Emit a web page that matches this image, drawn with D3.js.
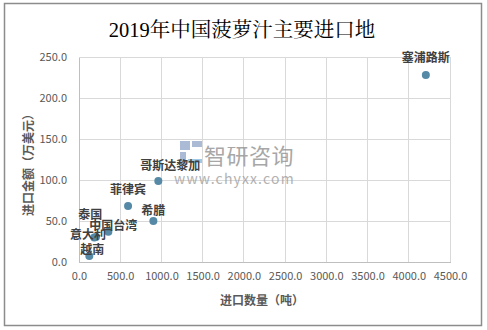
<!DOCTYPE html>
<html><head><meta charset="utf-8">
<script src="https://cdn.jsdelivr.net/npm/d3@7"></script>
<style>body{margin:0;background:#fff}svg{display:block}</style>
</head><body>
<script>
const names = ["塞浦路斯","哥斯达黎加","菲律宾","希腊","中国台湾","泰国","意大利","越南"];
const quantity = [4207, 962, 595, 902, 356, 185, 206, 125];
const amount = [228, 98.8, 68.3, 50, 37, 30, 30.5, 7.3];
const xTicks = [0,500,1000,1500,2000,2500,3000,3500,4000,4500];
const yTicks = [0,50,100,150,200,250];
const title = "2019年中国菠萝汁主要进口地";
const xTitle = "进口数量（吨）";
const yTitle = "进口金额（万美元）";

const W=487,H=330;
const svg=d3.select("body").append("svg").attr("width",W).attr("height",H);
svg.append("rect").attr("x",4.5).attr("y",3.5).attr("width",477).attr("height",322)
  .attr("fill","#fff").attr("stroke","#8c8c8c").attr("stroke-width",1.5);

const x=d3.scaleLinear().domain([0,4500]).range([79,450]);
const y=d3.scaleLinear().domain([0,250]).range([262,57]);
const sans="'Microsoft YaHei','Noto Sans CJK SC',sans-serif";

svg.append("text").attr("x",242).attr("y",37).attr("text-anchor","middle")
  .attr("font-family","'Liberation Serif','Noto Serif CJK SC','Noto Sans CJK SC',serif")
  .attr("font-size",20.5).attr("fill","#000").text(title);

// grid
svg.append("g").selectAll("line").data(xTicks).join("line")
  .attr("x1",d=>x(d)).attr("x2",d=>x(d)).attr("y1",y(250)).attr("y2",y(0))
  .attr("stroke","#d9d9d9").attr("shape-rendering","crispEdges");
svg.append("g").selectAll("line").data(yTicks).join("line")
  .attr("y1",d=>y(d)).attr("y2",d=>y(d)).attr("x1",x(0)).attr("x2",x(4500))
  .attr("stroke","#d9d9d9").attr("shape-rendering","crispEdges");

const xa=svg.append("g").attr("transform",`translate(0,${y(0)})`)
  .call(d3.axisBottom(x).tickValues(xTicks).tickFormat(d3.format(".1f")).tickSize(0).tickPadding(10));
const ya=svg.append("g").attr("transform",`translate(${x(0)},0)`)
  .call(d3.axisLeft(y).tickValues(yTicks).tickFormat(d3.format(".1f")).tickSize(0).tickPadding(12));
[xa,ya].forEach(a=>{
  a.select(".domain").attr("stroke","#bfbfbf").attr("shape-rendering","crispEdges");
  a.selectAll("text").attr("font-family",sans).attr("font-size",11).attr("fill","#595959");
});

svg.append("text").attr("x",262).attr("y",305).attr("text-anchor","middle")
  .attr("font-family",sans).attr("font-size",12).attr("font-weight","bold").attr("fill","#595959").text(xTitle);
svg.append("text").attr("transform","translate(33,162) rotate(-90)").attr("text-anchor","middle")
  .attr("font-family",sans).attr("font-size",12).attr("font-weight","bold").attr("fill","#595959").text(yTitle);

// watermark
const wm=svg.append("g").attr("opacity",0.75);
wm.append("rect").attr("x",180).attr("y",141).attr("width",10).attr("height",9).attr("fill","#8fa3c8");
wm.append("rect").attr("x",192).attr("y",141).attr("width",10).attr("height",6).attr("fill","#8fa3c8");
wm.append("rect").attr("x",180).attr("y",152).attr("width",6).attr("height",14).attr("fill","#8fa3c8");
wm.append("rect").attr("x",188).attr("y",159).attr("width",14).attr("height",4).attr("fill","#7fb8df");
wm.append("text").attr("x",204).attr("y",164).attr("font-family",sans).attr("font-size",22)
  .attr("fill","#8a8a8a").attr("letter-spacing",0.5).text("智研咨询");
wm.append("text").attr("x",174).attr("y",184).attr("font-family",sans).attr("font-size",14)
  .attr("fill","#999").attr("letter-spacing",1.2).text("www.chyxx.com");

const data=names.map((n,i)=>({n,q:quantity[i],a:amount[i]}));
svg.append("g").selectAll("circle").data(data).join("circle")
  .attr("cx",d=>x(d.q)).attr("cy",d=>y(d.a)).attr("r",4).attr("fill","#5589a6");

const off={"塞浦路斯":[0,-17],"哥斯达黎加":[12,-15],"菲律宾":[0,-16],"希腊":[0,-10],
  "中国台湾":[5,-6],"泰国":[-4,-22],"意大利":[-8,-2],"越南":[3,-6]};
svg.append("g").selectAll("text").data(data).join("text")
  .attr("x",d=>x(d.q)+off[d.n][0]).attr("y",d=>y(d.a)+off[d.n][1]+4)
  .attr("text-anchor","middle").attr("font-family",sans).attr("font-size",12)
  .attr("font-weight","bold").attr("fill","#404040").text(d=>d.n);
</script>
</body></html>
